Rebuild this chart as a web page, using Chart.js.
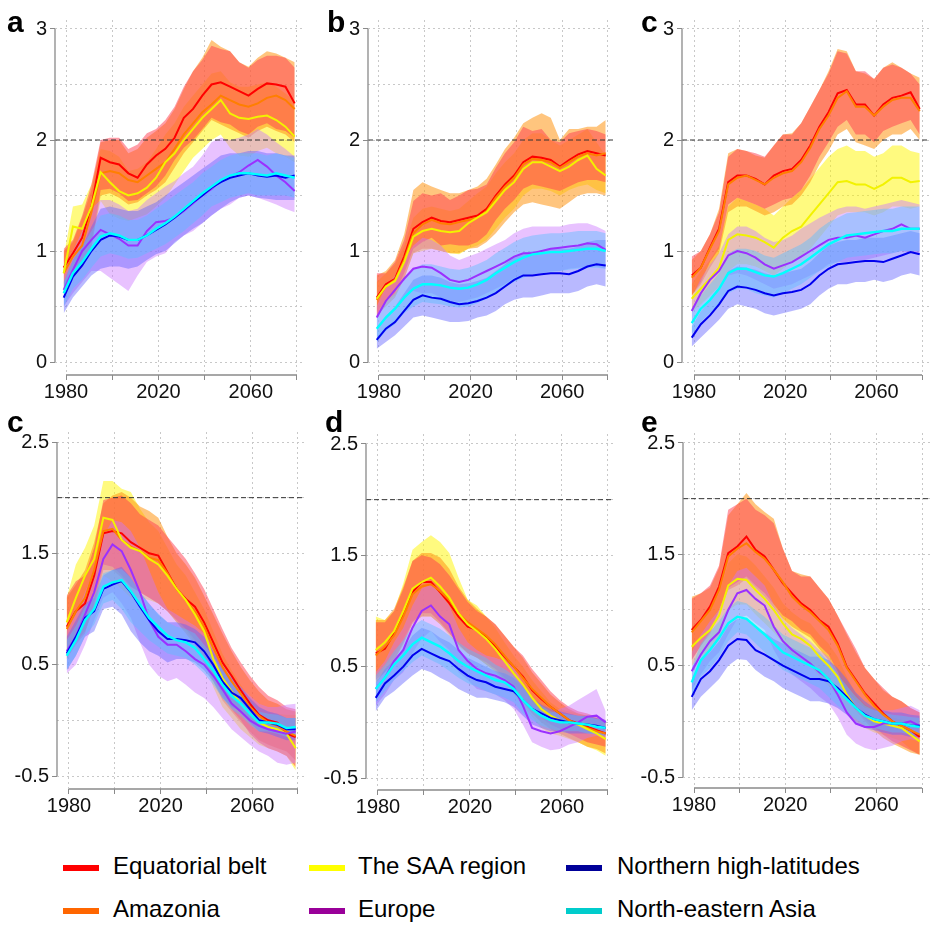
<!DOCTYPE html>
<html>
<head>
<meta charset="utf-8">
<script src="https://cdn.jsdelivr.net/npm/chart.js@4.4.0/dist/chart.umd.min.js"></script>
<style>
  html, body { margin: 0; padding: 0; background: #fff; }
  #wrap { position: relative; width: 930px; height: 926px; overflow: hidden; background: #fff;
          font-family: 'Liberation Sans', Arial, sans-serif; }
  canvas { position: absolute; }
  .plabel { position: absolute; font-weight: bold; font-size: 30px; line-height: 30px; color: #000; }
  .lg { position: absolute; font-size: 24px; line-height: 24px; color: #000; white-space: nowrap; }
  .sw { position: absolute; width: 36px; height: 6px; }
</style>
</head>
<body>
<div id="wrap"></div>
<script>
// ---------------- DATA ----------------
const years = [1979,1983,1987,1991,1995,1999,2003,2007,2011,2015,2019,2023,2027,2031,2035,2039,2043,2047,2051,2055,2059,2063,2067,2071,2075,2079];
const threshold = 2;
const xTicks = [1980,2000,2020,2040,2060,2080];
const xLabels = ['1980','','2020','','2060',''];
const topYTicks = [0,0.5,1,1.5,2,2.5,3];
const topYLabels = ['0','','1','','2','','3'];
const botYTicks = [-0.5,0,0.5,1,1.5,2,2.5];
const botYLabels = ['-0.5','','0.5','','1.5','','2.5'];
const seriesNames = ['Equatorial belt','Amazonia','The SAA region','Europe','Northern high-latitudes','North-eastern Asia'];

// Panel a
const a_eq    = [0.85,0.98,1.12,1.40,1.84,1.80,1.78,1.70,1.66,1.78,1.86,1.92,2.02,2.20,2.28,2.40,2.50,2.52,2.48,2.44,2.40,2.46,2.51,2.50,2.48,2.33];
const a_eq_lo = [0.65,0.80,0.88,1.05,1.55,1.56,1.52,1.45,1.46,1.52,1.58,1.68,1.82,1.93,2.00,2.10,2.20,2.16,2.14,2.08,2.05,2.12,2.15,2.10,2.08,2.02];
const a_eq_hi = [1.02,1.10,1.32,1.60,2.00,2.02,2.02,1.92,1.96,2.06,2.10,2.18,2.30,2.48,2.62,2.72,2.85,2.82,2.80,2.70,2.65,2.72,2.76,2.76,2.74,2.65];
const a_am    = [0.80,0.95,1.05,1.35,1.70,1.72,1.70,1.64,1.62,1.68,1.74,1.80,1.92,2.05,2.15,2.25,2.32,2.40,2.36,2.32,2.30,2.33,2.38,2.40,2.36,2.28];
const a_am_lo = [0.62,0.78,0.85,1.02,1.50,1.52,1.48,1.42,1.44,1.50,1.55,1.62,1.75,1.88,1.98,2.08,2.18,2.14,2.10,2.06,2.02,2.08,2.12,2.08,2.05,1.98];
const a_am_hi = [1.00,1.08,1.30,1.55,1.98,2.00,2.00,1.88,1.92,2.02,2.08,2.15,2.28,2.46,2.62,2.74,2.90,2.84,2.80,2.70,2.66,2.74,2.80,2.78,2.74,2.70];
const a_saa    = [0.80,1.22,1.20,1.40,1.71,1.62,1.54,1.50,1.52,1.57,1.66,1.80,1.88,2.00,2.10,2.20,2.28,2.36,2.24,2.20,2.19,2.21,2.22,2.18,2.12,2.03];
const a_saa_lo = [0.70,0.92,0.95,1.10,1.45,1.33,1.29,1.27,1.30,1.33,1.40,1.48,1.60,1.72,1.84,1.92,2.00,2.05,1.93,1.86,1.85,1.90,1.93,1.88,1.85,1.80];
const a_saa_hi = [0.95,1.40,1.42,1.60,1.92,1.90,1.85,1.72,1.74,1.80,1.92,2.05,2.15,2.30,2.40,2.50,2.60,2.62,2.52,2.48,2.48,2.50,2.52,2.48,2.42,2.35];
const a_eu    = [0.65,0.83,1.00,1.10,1.19,1.15,1.11,1.05,1.05,1.18,1.26,1.27,1.30,1.36,1.43,1.50,1.56,1.63,1.67,1.71,1.77,1.82,1.76,1.68,1.62,1.54];
const a_eu_lo = [0.50,0.62,0.72,0.82,0.82,0.76,0.70,0.64,0.78,0.90,0.95,0.98,1.08,1.14,1.18,1.25,1.32,1.38,1.42,1.48,1.50,1.48,1.45,1.42,1.38,1.35];
const a_eu_hi = [0.86,1.00,1.18,1.38,1.46,1.46,1.42,1.36,1.38,1.46,1.52,1.58,1.63,1.70,1.76,1.86,1.98,2.02,2.00,2.02,2.05,2.10,2.05,1.98,1.92,1.85];
const a_nh    = [0.58,0.77,0.87,1.00,1.10,1.14,1.13,1.10,1.10,1.14,1.19,1.24,1.30,1.37,1.44,1.50,1.57,1.62,1.66,1.68,1.70,1.68,1.67,1.68,1.66,1.68];
const a_nh_lo = [0.44,0.58,0.68,0.78,0.84,0.86,0.86,0.84,0.86,0.92,0.97,1.00,1.07,1.14,1.20,1.25,1.32,1.38,1.44,1.48,1.50,1.48,1.47,1.46,1.46,1.46];
const a_nh_hi = [0.72,0.92,1.04,1.22,1.38,1.40,1.38,1.36,1.36,1.40,1.44,1.50,1.56,1.62,1.68,1.74,1.80,1.86,1.88,1.88,1.90,1.90,1.88,1.88,1.86,1.86];
const a_ne    = [0.62,0.80,0.90,1.02,1.13,1.16,1.14,1.10,1.10,1.14,1.20,1.25,1.31,1.38,1.45,1.52,1.58,1.64,1.68,1.70,1.70,1.69,1.68,1.70,1.68,1.66];
const a_ne_lo = [0.50,0.66,0.74,0.85,0.95,0.98,0.96,0.93,0.94,0.98,1.02,1.06,1.12,1.18,1.25,1.32,1.40,1.44,1.48,1.50,1.52,1.50,1.50,1.50,1.50,1.48];
const a_ne_hi = [0.72,0.92,1.04,1.18,1.32,1.34,1.32,1.28,1.28,1.32,1.38,1.44,1.50,1.56,1.62,1.70,1.76,1.82,1.86,1.88,1.88,1.88,1.86,1.88,1.86,1.84];

// Panel b
const b_eq    = [0.58,0.70,0.75,0.95,1.20,1.26,1.30,1.27,1.26,1.28,1.30,1.32,1.38,1.50,1.60,1.68,1.80,1.85,1.84,1.82,1.76,1.82,1.87,1.90,1.88,1.86];
const b_eq_lo = [0.40,0.55,0.62,0.80,1.02,1.08,1.12,1.05,1.06,1.05,1.05,1.08,1.15,1.28,1.38,1.46,1.56,1.60,1.58,1.56,1.54,1.58,1.62,1.64,1.64,1.62];
const b_eq_hi = [0.80,0.80,0.90,1.10,1.45,1.52,1.50,1.52,1.46,1.50,1.55,1.56,1.60,1.75,1.88,1.98,2.12,2.08,2.10,2.00,1.98,2.06,2.08,2.10,2.08,2.05];
const b_am    = [0.56,0.68,0.74,0.92,1.16,1.24,1.28,1.25,1.24,1.26,1.28,1.30,1.36,1.48,1.58,1.66,1.78,1.83,1.82,1.80,1.75,1.80,1.85,1.88,1.86,1.88];
const b_am_lo = [0.42,0.50,0.58,0.75,0.98,1.02,1.02,1.00,0.98,0.98,1.02,1.03,1.08,1.16,1.26,1.35,1.42,1.44,1.42,1.40,1.38,1.44,1.50,1.52,1.52,1.50];
const b_am_hi = [0.78,0.82,0.92,1.15,1.55,1.62,1.58,1.55,1.52,1.52,1.55,1.58,1.65,1.78,1.92,2.02,2.15,2.20,2.24,2.20,2.00,2.10,2.10,2.12,2.12,2.18];
const b_saa    = [0.57,0.68,0.73,0.90,1.13,1.18,1.20,1.18,1.17,1.18,1.25,1.30,1.35,1.45,1.55,1.62,1.74,1.80,1.80,1.76,1.72,1.76,1.82,1.86,1.74,1.68];
const b_saa_lo = [0.45,0.55,0.60,0.75,0.98,1.00,1.02,1.00,0.98,0.97,1.02,1.05,1.10,1.20,1.30,1.38,1.50,1.56,1.56,1.54,1.50,1.55,1.58,1.60,1.55,1.52];
const b_saa_hi = [0.72,0.80,0.88,1.05,1.30,1.38,1.40,1.38,1.36,1.38,1.45,1.52,1.58,1.70,1.80,1.88,2.00,2.06,2.06,2.00,1.95,2.00,2.05,2.10,1.98,1.86];
const b_eu    = [0.40,0.55,0.65,0.75,0.84,0.86,0.85,0.80,0.74,0.72,0.74,0.78,0.82,0.86,0.90,0.95,0.98,0.98,1.00,1.02,1.03,1.04,1.05,1.07,1.06,1.01];
const b_eu_lo = [0.30,0.42,0.50,0.58,0.64,0.62,0.62,0.58,0.55,0.54,0.56,0.58,0.62,0.66,0.70,0.76,0.78,0.78,0.80,0.82,0.82,0.84,0.85,0.86,0.86,0.84];
const b_eu_hi = [0.50,0.68,0.78,0.92,1.05,1.12,1.10,1.05,0.96,0.92,0.95,0.98,1.02,1.06,1.10,1.16,1.20,1.22,1.22,1.22,1.22,1.24,1.25,1.25,1.22,1.18];
const b_nh    = [0.20,0.30,0.36,0.46,0.56,0.60,0.58,0.57,0.54,0.52,0.53,0.55,0.58,0.62,0.68,0.74,0.78,0.78,0.79,0.80,0.80,0.79,0.82,0.86,0.88,0.87];
const b_nh_lo = [0.12,0.18,0.24,0.32,0.40,0.42,0.40,0.38,0.36,0.36,0.37,0.40,0.42,0.46,0.52,0.56,0.58,0.58,0.60,0.62,0.62,0.62,0.64,0.68,0.70,0.68];
const b_nh_hi = [0.30,0.42,0.50,0.62,0.74,0.78,0.78,0.76,0.72,0.70,0.71,0.73,0.76,0.82,0.88,0.95,0.98,1.00,1.00,1.02,1.02,1.02,1.04,1.08,1.10,1.10];
const b_ne    = [0.30,0.40,0.48,0.58,0.66,0.70,0.70,0.69,0.67,0.66,0.67,0.70,0.74,0.80,0.85,0.90,0.94,0.97,0.98,0.99,0.99,1.00,1.01,1.02,1.02,1.00];
const b_ne_lo = [0.18,0.28,0.34,0.44,0.50,0.54,0.53,0.52,0.50,0.49,0.50,0.53,0.57,0.62,0.68,0.72,0.76,0.79,0.80,0.81,0.82,0.83,0.84,0.85,0.85,0.84];
const b_ne_hi = [0.42,0.54,0.62,0.74,0.84,0.88,0.88,0.86,0.84,0.83,0.85,0.88,0.92,0.98,1.03,1.08,1.12,1.14,1.15,1.16,1.16,1.17,1.18,1.18,1.18,1.16];

// Panel c (top)
const c_eq    = [0.78,0.85,1.03,1.20,1.62,1.68,1.68,1.65,1.60,1.68,1.72,1.74,1.82,1.95,2.12,2.25,2.42,2.45,2.32,2.32,2.22,2.32,2.38,2.40,2.43,2.28];
const c_eq_lo = [0.60,0.72,0.90,1.02,1.42,1.48,1.45,1.42,1.38,1.42,1.46,1.48,1.55,1.68,1.85,1.98,2.12,2.18,2.05,2.05,1.98,2.08,2.12,2.15,2.18,2.05];
const c_eq_hi = [0.95,1.00,1.15,1.35,1.85,1.92,1.90,1.88,1.85,1.95,2.05,2.05,2.15,2.30,2.45,2.60,2.80,2.78,2.62,2.62,2.55,2.65,2.68,2.65,2.60,2.50];
const c_am    = [0.76,0.85,1.02,1.18,1.60,1.66,1.68,1.64,1.60,1.66,1.70,1.72,1.80,1.93,2.10,2.22,2.38,2.44,2.30,2.30,2.22,2.30,2.36,2.38,2.38,2.26];
const c_am_lo = [0.60,0.70,0.85,0.98,1.35,1.40,1.40,1.36,1.32,1.35,1.40,1.42,1.50,1.62,1.78,1.90,2.05,2.10,1.98,1.95,1.92,2.00,2.05,2.05,2.10,2.00];
const c_am_hi = [0.92,1.00,1.15,1.38,1.88,1.92,1.90,1.86,1.84,1.95,2.05,2.06,2.15,2.30,2.45,2.62,2.82,2.80,2.62,2.60,2.55,2.65,2.70,2.65,2.60,2.56];
const c_saa    = [0.57,0.66,0.75,0.85,1.10,1.15,1.14,1.12,1.08,1.03,1.12,1.18,1.22,1.32,1.42,1.52,1.62,1.63,1.60,1.60,1.56,1.60,1.66,1.66,1.62,1.63];
const c_saa_lo = [0.45,0.52,0.60,0.68,0.82,0.88,0.88,0.86,0.82,0.78,0.84,0.90,0.95,1.02,1.12,1.22,1.32,1.35,1.35,1.35,1.32,1.35,1.40,1.40,1.38,1.40];
const c_saa_hi = [0.70,0.82,0.92,1.05,1.40,1.48,1.45,1.42,1.38,1.32,1.40,1.48,1.55,1.65,1.75,1.85,1.92,1.95,1.90,1.90,1.85,1.88,1.95,1.95,1.90,1.88];
const c_eu    = [0.46,0.62,0.74,0.82,0.96,1.00,0.98,0.94,0.88,0.84,0.87,0.90,0.95,1.00,1.05,1.10,1.12,1.12,1.14,1.12,1.15,1.18,1.20,1.24,1.20,1.20];
const c_eu_lo = [0.35,0.50,0.58,0.66,0.78,0.80,0.78,0.74,0.70,0.66,0.68,0.70,0.74,0.78,0.82,0.88,0.90,0.90,0.92,0.92,0.94,0.96,0.98,1.00,0.98,0.98];
const c_eu_hi = [0.58,0.75,0.88,0.98,1.15,1.22,1.22,1.18,1.12,1.08,1.10,1.14,1.20,1.25,1.30,1.34,1.38,1.40,1.40,1.38,1.40,1.42,1.44,1.46,1.44,1.42];
const c_nh    = [0.22,0.34,0.42,0.52,0.64,0.68,0.67,0.65,0.62,0.60,0.62,0.63,0.65,0.70,0.78,0.84,0.88,0.89,0.90,0.91,0.91,0.90,0.93,0.96,0.99,0.97];
const c_nh_lo = [0.14,0.22,0.30,0.38,0.48,0.52,0.50,0.48,0.44,0.42,0.44,0.46,0.48,0.52,0.60,0.66,0.70,0.70,0.72,0.72,0.74,0.72,0.74,0.78,0.80,0.78];
const c_nh_hi = [0.32,0.46,0.56,0.66,0.82,0.86,0.85,0.83,0.80,0.78,0.80,0.82,0.84,0.90,0.98,1.05,1.08,1.10,1.10,1.12,1.12,1.12,1.14,1.16,1.18,1.16];
const c_ne    = [0.35,0.48,0.56,0.66,0.80,0.84,0.84,0.81,0.78,0.77,0.80,0.84,0.88,0.94,1.00,1.06,1.10,1.14,1.15,1.16,1.17,1.18,1.18,1.20,1.20,1.20];
const c_ne_lo = [0.25,0.36,0.44,0.52,0.62,0.66,0.66,0.62,0.60,0.58,0.62,0.66,0.70,0.76,0.82,0.86,0.90,0.94,0.95,0.96,0.97,0.98,0.98,1.00,1.00,1.00];
const c_ne_hi = [0.45,0.60,0.70,0.80,0.98,1.02,1.02,1.00,0.96,0.94,0.98,1.02,1.06,1.12,1.20,1.26,1.30,1.34,1.35,1.36,1.37,1.38,1.38,1.40,1.40,1.40];

// Panel c (bottom)
const c2_eq    = [0.84,0.98,1.05,1.30,1.68,1.70,1.68,1.60,1.55,1.50,1.48,1.33,1.18,1.09,1.02,0.88,0.70,0.52,0.40,0.27,0.15,0.05,0.00,-0.02,-0.12,-0.15];
const c2_eq_lo = [0.55,0.68,0.78,1.05,1.40,1.38,1.30,1.20,1.15,1.10,1.05,0.98,0.90,0.82,0.72,0.58,0.40,0.22,0.10,0.00,-0.12,-0.20,-0.25,-0.28,-0.32,-0.42];
const c2_eq_hi = [1.12,1.25,1.30,1.55,1.98,2.00,2.02,1.95,1.85,1.80,1.75,1.65,1.55,1.45,1.32,1.18,1.00,0.82,0.65,0.52,0.40,0.30,0.22,0.18,0.12,0.10];
const c2_am    = [0.82,0.98,1.10,1.35,1.70,1.72,1.62,1.56,1.52,1.46,1.44,1.32,1.18,1.08,0.98,0.84,0.65,0.48,0.35,0.24,0.12,0.04,-0.02,-0.05,-0.10,-0.14];
const c2_am_lo = [0.55,0.70,0.80,1.02,1.35,1.35,1.28,1.20,1.15,1.10,1.05,0.98,0.88,0.78,0.68,0.52,0.35,0.18,0.08,-0.02,-0.10,-0.18,-0.22,-0.25,-0.28,-0.36];
const c2_am_hi = [1.10,1.22,1.35,1.60,1.95,2.02,2.05,2.00,1.92,1.88,1.82,1.65,1.50,1.40,1.28,1.12,0.95,0.78,0.62,0.48,0.36,0.26,0.18,0.15,0.10,0.08];
const c2_saa    = [0.88,1.10,1.30,1.45,1.82,1.80,1.62,1.55,1.52,1.45,1.40,1.30,1.18,1.08,0.95,0.80,0.55,0.38,0.26,0.15,0.06,-0.02,-0.06,-0.08,-0.12,-0.25];
const c2_saa_lo = [0.58,0.70,0.80,1.00,1.30,1.25,1.18,1.10,1.10,1.08,1.05,0.98,0.88,0.80,0.70,0.55,0.30,0.12,0.02,-0.08,-0.15,-0.22,-0.25,-0.28,-0.32,-0.45];
const c2_saa_hi = [1.10,1.40,1.55,1.75,2.15,2.15,2.08,2.05,1.90,1.78,1.70,1.55,1.40,1.30,1.15,1.00,0.80,0.60,0.45,0.32,0.20,0.12,0.08,0.06,0.05,0.05];
const c2_eu    = [0.62,0.75,0.95,1.15,1.45,1.58,1.52,1.35,1.15,0.90,0.75,0.68,0.68,0.62,0.55,0.50,0.40,0.28,0.15,0.08,0.00,-0.05,-0.08,-0.10,-0.12,-0.10];
const c2_eu_lo = [0.42,0.50,0.68,0.90,1.10,1.15,1.05,0.92,0.70,0.50,0.40,0.35,0.38,0.32,0.25,0.20,0.12,0.02,-0.08,-0.15,-0.22,-0.28,-0.32,-0.38,-0.40,-0.38];
const c2_eu_hi = [0.80,0.95,1.15,1.35,1.65,1.80,1.78,1.70,1.55,1.35,1.15,1.00,0.95,0.90,0.85,0.78,0.68,0.52,0.40,0.30,0.22,0.15,0.12,0.12,0.14,0.15];
const c2_nh    = [0.60,0.75,0.92,0.98,1.18,1.22,1.25,1.15,1.02,0.90,0.80,0.73,0.73,0.72,0.70,0.62,0.50,0.35,0.25,0.20,0.10,0.00,-0.02,-0.04,-0.08,-0.08];
const c2_nh_lo = [0.45,0.58,0.75,0.80,1.00,1.02,0.95,0.80,0.70,0.62,0.58,0.52,0.55,0.55,0.52,0.45,0.35,0.20,0.12,0.08,-0.02,-0.10,-0.12,-0.15,-0.18,-0.18];
const c2_nh_hi = [0.75,0.90,1.05,1.10,1.30,1.35,1.38,1.28,1.15,1.05,0.95,0.88,0.88,0.86,0.82,0.75,0.62,0.48,0.38,0.30,0.20,0.12,0.08,0.06,0.02,0.02];
const c2_ne    = [0.58,0.72,0.90,1.00,1.20,1.24,1.26,1.16,1.04,0.92,0.84,0.76,0.72,0.70,0.65,0.55,0.45,0.32,0.22,0.15,0.06,-0.02,-0.02,-0.03,-0.07,-0.06];
const c2_ne_lo = [0.45,0.58,0.76,0.86,1.05,1.08,1.00,0.88,0.80,0.72,0.66,0.60,0.58,0.56,0.50,0.42,0.32,0.20,0.10,0.04,-0.04,-0.10,-0.10,-0.12,-0.15,-0.14];
const c2_ne_hi = [0.72,0.85,1.02,1.12,1.32,1.35,1.36,1.28,1.15,1.04,0.96,0.88,0.84,0.82,0.78,0.68,0.58,0.45,0.34,0.26,0.16,0.08,0.06,0.05,0.02,0.02];

// Panel d
const d_eq    = [0.62,0.66,0.80,0.98,1.17,1.26,1.26,1.17,1.07,0.95,0.86,0.83,0.77,0.68,0.59,0.50,0.41,0.29,0.21,0.14,0.08,0.02,-0.01,-0.04,-0.07,-0.10];
const d_eq_lo = [0.38,0.45,0.55,0.72,0.90,0.98,0.98,0.90,0.80,0.70,0.62,0.58,0.54,0.48,0.40,0.32,0.22,0.12,0.04,-0.02,-0.06,-0.10,-0.14,-0.18,-0.20,-0.22];
const d_eq_hi = [0.90,0.90,1.00,1.20,1.45,1.50,1.48,1.42,1.32,1.20,1.08,1.00,0.95,0.88,0.78,0.68,0.60,0.48,0.38,0.28,0.20,0.14,0.10,0.08,0.05,0.02];
const d_am    = [0.60,0.68,0.78,0.95,1.15,1.22,1.24,1.18,1.10,0.98,0.90,0.84,0.78,0.70,0.60,0.50,0.40,0.30,0.22,0.14,0.08,0.02,-0.02,-0.05,-0.08,-0.10];
const d_am_lo = [0.35,0.45,0.55,0.70,0.88,0.95,0.95,0.88,0.80,0.70,0.62,0.58,0.52,0.46,0.38,0.28,0.18,0.08,0.00,-0.06,-0.10,-0.14,-0.18,-0.22,-0.24,-0.28];
const d_am_hi = [0.92,0.92,1.02,1.22,1.45,1.52,1.52,1.48,1.38,1.22,1.10,1.02,0.95,0.88,0.78,0.68,0.58,0.45,0.35,0.25,0.18,0.12,0.08,0.06,0.04,0.00];
const d_saa    = [0.65,0.72,0.82,1.00,1.20,1.26,1.30,1.22,1.12,0.98,0.88,0.82,0.75,0.66,0.55,0.44,0.34,0.22,0.12,0.06,0.02,0.00,-0.02,-0.06,-0.10,-0.15];
const d_saa_lo = [0.40,0.50,0.60,0.75,0.90,0.95,0.95,0.88,0.78,0.68,0.62,0.58,0.52,0.45,0.35,0.25,0.15,0.05,-0.05,-0.10,-0.12,-0.15,-0.18,-0.22,-0.25,-0.30];
const d_saa_hi = [0.95,0.92,1.00,1.25,1.55,1.62,1.68,1.62,1.52,1.30,1.10,1.05,0.95,0.85,0.72,0.60,0.50,0.38,0.28,0.18,0.12,0.10,0.08,0.06,0.04,0.00];
const d_eu    = [0.30,0.40,0.55,0.65,0.85,1.00,1.05,0.95,0.88,0.65,0.55,0.48,0.44,0.42,0.38,0.32,0.15,-0.05,-0.08,-0.10,-0.08,-0.04,0.00,0.05,0.06,0.00];
const d_eu_lo = [0.15,0.25,0.38,0.45,0.62,0.75,0.82,0.72,0.65,0.45,0.38,0.30,0.28,0.25,0.20,0.12,-0.02,-0.18,-0.22,-0.25,-0.24,-0.20,-0.18,-0.14,-0.12,-0.15];
const d_eu_hi = [0.45,0.55,0.72,0.85,1.05,1.20,1.25,1.15,1.05,0.85,0.72,0.65,0.60,0.58,0.55,0.50,0.35,0.18,0.10,0.08,0.12,0.15,0.20,0.25,0.30,0.10];
const d_nh    = [0.22,0.35,0.42,0.50,0.60,0.66,0.62,0.58,0.55,0.48,0.42,0.38,0.36,0.32,0.30,0.28,0.20,0.12,0.08,0.04,0.02,0.00,-0.01,-0.02,-0.03,-0.05];
const d_nh_lo = [0.10,0.22,0.28,0.35,0.42,0.48,0.45,0.40,0.36,0.30,0.26,0.22,0.22,0.20,0.18,0.14,0.06,-0.02,-0.05,-0.08,-0.08,-0.10,-0.10,-0.10,-0.10,-0.12];
const d_nh_hi = [0.35,0.48,0.56,0.66,0.78,0.85,0.82,0.76,0.72,0.65,0.58,0.54,0.50,0.46,0.44,0.40,0.32,0.22,0.16,0.12,0.10,0.08,0.06,0.06,0.04,0.02];
const d_ne    = [0.30,0.40,0.52,0.60,0.70,0.76,0.72,0.68,0.62,0.55,0.50,0.46,0.42,0.38,0.36,0.30,0.20,0.12,0.06,0.02,0.00,0.00,-0.01,-0.02,-0.04,-0.05];
const d_ne_lo = [0.18,0.28,0.38,0.46,0.54,0.60,0.56,0.52,0.46,0.40,0.35,0.32,0.28,0.25,0.22,0.18,0.08,0.02,-0.03,-0.06,-0.08,-0.08,-0.08,-0.10,-0.11,-0.12];
const d_ne_hi = [0.42,0.52,0.64,0.74,0.86,0.92,0.88,0.84,0.78,0.72,0.66,0.62,0.58,0.52,0.48,0.42,0.32,0.22,0.15,0.10,0.08,0.07,0.06,0.05,0.03,0.02];

// Panel e
const e_eq    = [0.82,0.91,1.03,1.21,1.51,1.57,1.66,1.54,1.48,1.36,1.24,1.15,1.06,1.00,0.91,0.85,0.70,0.49,0.37,0.25,0.16,0.07,0.00,-0.04,-0.08,-0.14];
const e_eq_lo = [0.55,0.68,0.80,1.00,1.20,1.25,1.30,1.22,1.15,1.05,0.95,0.90,0.82,0.78,0.68,0.60,0.45,0.25,0.12,0.02,-0.05,-0.12,-0.18,-0.22,-0.26,-0.30];
const e_eq_hi = [1.10,1.15,1.22,1.40,1.90,1.95,2.00,1.90,1.85,1.78,1.55,1.35,1.30,1.30,1.20,1.10,0.95,0.80,0.65,0.48,0.38,0.30,0.22,0.18,0.12,0.08];
const e_am    = [0.80,0.90,1.00,1.18,1.48,1.55,1.60,1.52,1.46,1.36,1.25,1.12,1.04,0.98,0.90,0.82,0.68,0.48,0.36,0.24,0.14,0.06,0.00,-0.04,-0.08,-0.12];
const e_am_lo = [0.55,0.68,0.78,0.98,1.18,1.22,1.28,1.20,1.12,1.02,0.92,0.85,0.80,0.75,0.65,0.55,0.42,0.22,0.10,0.00,-0.08,-0.15,-0.20,-0.24,-0.28,-0.30];
const e_am_hi = [1.12,1.15,1.20,1.38,1.85,1.95,2.05,1.95,1.88,1.82,1.55,1.35,1.32,1.30,1.20,1.10,0.95,0.78,0.62,0.48,0.38,0.28,0.22,0.18,0.12,0.08];
const e_saa    = [0.67,0.75,0.82,0.95,1.22,1.28,1.27,1.18,1.10,1.00,0.88,0.78,0.74,0.68,0.58,0.50,0.40,0.24,0.12,0.05,0.00,-0.02,-0.04,-0.06,-0.12,-0.18];
const e_saa_lo = [0.50,0.58,0.64,0.75,1.00,1.05,1.05,0.96,0.88,0.80,0.70,0.60,0.55,0.50,0.40,0.32,0.22,0.08,0.00,-0.06,-0.10,-0.12,-0.15,-0.18,-0.25,-0.30];
const e_saa_hi = [0.85,0.92,1.00,1.15,1.42,1.50,1.48,1.40,1.30,1.20,1.06,0.98,0.92,0.88,0.78,0.70,0.58,0.40,0.25,0.15,0.10,0.06,0.04,0.02,0.00,-0.05];
const e_eu    = [0.45,0.60,0.72,0.80,1.00,1.15,1.18,1.10,1.04,0.85,0.72,0.64,0.58,0.52,0.44,0.38,0.24,0.08,-0.02,-0.05,-0.05,-0.02,-0.02,-0.02,0.00,-0.04];
const e_eu_lo = [0.28,0.42,0.54,0.62,0.78,0.92,0.95,0.88,0.82,0.64,0.50,0.42,0.36,0.30,0.22,0.16,0.04,-0.12,-0.20,-0.24,-0.26,-0.24,-0.22,-0.18,-0.16,-0.18];
const e_eu_hi = [0.62,0.78,0.90,1.00,1.22,1.35,1.38,1.30,1.22,1.05,0.92,0.84,0.78,0.72,0.64,0.58,0.44,0.28,0.18,0.12,0.10,0.10,0.10,0.12,0.14,0.10];
const e_nh    = [0.22,0.38,0.45,0.55,0.68,0.74,0.73,0.64,0.60,0.55,0.50,0.46,0.42,0.38,0.38,0.36,0.30,0.22,0.12,0.06,0.02,0.00,-0.02,-0.02,-0.04,-0.04];
const e_nh_lo = [0.10,0.22,0.30,0.38,0.50,0.56,0.55,0.46,0.40,0.36,0.30,0.26,0.22,0.18,0.18,0.16,0.12,0.06,-0.02,-0.06,-0.08,-0.10,-0.12,-0.12,-0.14,-0.14];
const e_nh_hi = [0.38,0.55,0.62,0.72,0.86,0.92,0.92,0.84,0.80,0.74,0.70,0.66,0.62,0.58,0.58,0.55,0.48,0.38,0.26,0.18,0.12,0.10,0.08,0.08,0.06,0.05];
const e_ne    = [0.35,0.55,0.64,0.75,0.88,0.94,0.92,0.85,0.78,0.70,0.62,0.58,0.54,0.50,0.46,0.38,0.28,0.20,0.12,0.05,0.02,0.00,-0.02,-0.02,-0.04,-0.05];
const e_ne_lo = [0.22,0.40,0.48,0.58,0.72,0.80,0.78,0.70,0.62,0.54,0.46,0.42,0.38,0.34,0.30,0.22,0.14,0.08,0.02,-0.04,-0.06,-0.08,-0.10,-0.10,-0.12,-0.13];
const e_ne_hi = [0.48,0.70,0.80,0.90,1.02,1.08,1.06,1.00,0.94,0.86,0.78,0.74,0.70,0.66,0.62,0.54,0.42,0.32,0.22,0.14,0.10,0.08,0.06,0.05,0.04,0.03];

// ---------------- STYLE / LAYOUT ----------------
const lineColors = ['#ff0000','#ff7f00','#f2f200','#9b30ff','#0000ee','#00ffff'];
const bandColors = ['rgba(255,60,80,0.50)','rgba(255,150,20,0.55)','rgba(255,245,0,0.50)',
                    'rgba(205,120,255,0.45)','rgba(100,100,255,0.45)','rgba(90,190,255,0.45)'];
// drawing order of bands (higher = further back): yellow, orange, red, purple, blue, cyan
const bandOrder = [14, 15, 16, 13, 12, 11];
const legendColors = ['#ff0000','#ff6600','#ffff00','#990099','#000099','#00cccc'];

const panels = [
  {letter:'a', sets:[[a_eq,a_eq_lo,a_eq_hi],[a_am,a_am_lo,a_am_hi],[a_saa,a_saa_lo,a_saa_hi],[a_eu,a_eu_lo,a_eu_hi],[a_nh,a_nh_lo,a_nh_hi],[a_ne,a_ne_lo,a_ne_hi]],
   top:true, cx:0, cy:0, w:310, h:400, L:55, X0:66, X1:297, R:302, yHiPx:29, yLoPx:362, T:20, B:375, lx:7, ly:7},
  {letter:'b', sets:[[b_eq,b_eq_lo,b_eq_hi],[b_am,b_am_lo,b_am_hi],[b_saa,b_saa_lo,b_saa_hi],[b_eu,b_eu_lo,b_eu_hi],[b_nh,b_nh_lo,b_nh_hi],[b_ne,b_ne_lo,b_ne_hi]],
   top:true, cx:310, cy:0, w:310, h:400, L:58, X0:69, X1:298, R:303, yHiPx:29, yLoPx:362, T:20, B:375, lx:327, ly:7},
  {letter:'c', sets:[[c_eq,c_eq_lo,c_eq_hi],[c_am,c_am_lo,c_am_hi],[c_saa,c_saa_lo,c_saa_hi],[c_eu,c_eu_lo,c_eu_hi],[c_nh,c_nh_lo,c_nh_hi],[c_ne,c_ne_lo,c_ne_hi]],
   top:true, cx:620, cy:0, w:310, h:400, L:62, X0:74, X1:302, R:310, yHiPx:29, yLoPx:362, T:20, B:375, lx:641, ly:7},
  {letter:'c', sets:[[c2_eq,c2_eq_lo,c2_eq_hi],[c2_am,c2_am_lo,c2_am_hi],[c2_saa,c2_saa_lo,c2_saa_hi],[c2_eu,c2_eu_lo,c2_eu_hi],[c2_nh,c2_nh_lo,c2_nh_hi],[c2_ne,c2_ne_lo,c2_ne_hi]],
   top:false, cx:0, cy:400, w:310, h:420, L:57, X0:69, X1:298, R:305, yHiPx:42, yLoPx:376, T:32, B:389, lx:7, ly:407},
  {letter:'d', sets:[[d_eq,d_eq_lo,d_eq_hi],[d_am,d_am_lo,d_am_hi],[d_saa,d_saa_lo,d_saa_hi],[d_eu,d_eu_lo,d_eu_hi],[d_nh,d_nh_lo,d_nh_hi],[d_ne,d_ne_lo,d_ne_hi]],
   top:false, cx:310, cy:400, w:310, h:420, L:56, X0:68, X1:298, R:304, yHiPx:44, yLoPx:378, T:34, B:390, lx:325, ly:407},
  {letter:'e', sets:[[e_eq,e_eq_lo,e_eq_hi],[e_am,e_am_lo,e_am_hi],[e_saa,e_saa_lo,e_saa_hi],[e_eu,e_eu_lo,e_eu_hi],[e_nh,e_nh_lo,e_nh_hi],[e_ne,e_ne_lo,e_ne_hi]],
   top:false, cx:620, cy:400, w:310, h:420, L:63, X0:74, X1:302, R:310, yHiPx:43, yLoPx:377, T:33, B:388, lx:641, ly:407}
];

Chart.defaults.font.family = "'Liberation Sans', Arial, Helvetica, sans-serif";
Chart.defaults.color = '#111';

const toPts = arr => arr.map((v, i) => ({x: years[i], y: v}));

// R-style axis lines spanning first..last labelled tick
const rAxes = {
  id: 'rAxes',
  afterDraw(chart, args, opts) {
    const {ctx, chartArea, scales} = chart;
    const x = scales.x, y = scales.y;
    ctx.save();
    ctx.strokeStyle = '#8a8a8a';
    ctx.lineWidth = 1.3;
    ctx.beginPath();
    ctx.moveTo(chartArea.left, y.getPixelForValue(opts.yFrom));
    ctx.lineTo(chartArea.left, y.getPixelForValue(opts.yTo));
    ctx.moveTo(x.getPixelForValue(xTicks[0]), chartArea.bottom);
    ctx.lineTo(x.getPixelForValue(xTicks[xTicks.length - 1]), chartArea.bottom);
    ctx.stroke();
    ctx.restore();
  }
};

const wrap = document.getElementById('wrap');

panels.forEach(p => {
  const yT = p.top ? topYTicks : botYTicks;
  const yL = p.top ? topYLabels : botYLabels;
  const yHiVal = yT[yT.length - 1], yLoVal = yT[0];
  const ppu = (p.yLoPx - p.yHiPx) / (yHiVal - yLoVal);
  const ymax = yHiVal + (p.yHiPx - p.T) / ppu;
  const ymin = yLoVal - (p.B - p.yLoPx) / ppu;
  const ppy = (p.X1 - p.X0) / (xTicks[xTicks.length - 1] - xTicks[0]);
  const xmin = xTicks[0] - (p.X0 - p.L) / ppy;
  const xmax = xTicks[xTicks.length - 1] + (p.R - p.X1) / ppy;

  const cv = document.createElement('canvas');
  cv.width = p.w; cv.height = p.h;
  cv.style.left = p.cx + 'px'; cv.style.top = p.cy + 'px';
  wrap.appendChild(cv);

  const lab = document.createElement('div');
  lab.className = 'plabel';
  lab.textContent = p.letter;
  lab.style.left = p.lx + 'px'; lab.style.top = p.ly + 'px';
  wrap.appendChild(lab);

  const datasets = [];
  // mean lines (drawn on top)
  p.sets.forEach((s, i) => {
    datasets.push({
      label: seriesNames[i], data: toPts(s[0]), borderColor: lineColors[i],
      borderWidth: i === 5 ? 2.4 : 2, pointRadius: 0, fill: false, tension: 0, order: 6 - i
    });
  });
  // threshold line
  datasets.push({
    label: 'threshold', data: [{x: xmin, y: threshold}, {x: xmax, y: threshold}],
    borderColor: '#333', borderWidth: 1, borderDash: [5, 3], pointRadius: 0, fill: false, order: 7
  });
  // uncertainty bands
  p.sets.forEach((s, i) => {
    datasets.push({
      label: seriesNames[i] + ' hi', data: toPts(s[2]), borderColor: 'rgba(0,0,0,0)', borderWidth: 1,
      backgroundColor: bandColors[i], pointRadius: 0, fill: '+1', tension: 0, order: bandOrder[i]
    });
    datasets.push({
      label: seriesNames[i] + ' lo', data: toPts(s[1]), borderColor: 'rgba(0,0,0,0)', borderWidth: 1,
      pointRadius: 0, fill: false, tension: 0, order: bandOrder[i]
    });
  });

  new Chart(cv, {
    type: 'line',
    data: {datasets},
    plugins: [rAxes],
    options: {
      responsive: false, animation: false, devicePixelRatio: 1, events: [],
      layout: {padding: {left: 0, right: p.w - p.R, top: p.T, bottom: 0}},
      plugins: {legend: {display: false}, tooltip: {enabled: false},
                rAxes: {yFrom: yLoVal, yTo: yHiVal}},
      scales: {
        x: {
          type: 'linear', min: xmin, max: xmax,
          afterFit: sc => { sc.height = p.h - p.B; },
          afterBuildTicks: sc => { sc.ticks = xTicks.map(v => ({value: v})); },
          ticks: {autoSkip: false, maxRotation: 0, padding: 0, color: '#111',
                  font: {size: 20}, callback: (v) => { const k = xTicks.indexOf(v); return k >= 0 ? xLabels[k] : ''; }},
          grid: {color: '#c8c8c8', lineWidth: 1, tickLength: 5, tickColor: '#8a8a8a', tickBorderDash: []},
          border: {display: false, dash: [2, 3]}
        },
        y: {
          type: 'linear', min: ymin, max: ymax,
          afterFit: sc => { sc.width = p.L; },
          afterBuildTicks: sc => { sc.ticks = yT.map(v => ({value: v})); },
          ticks: {autoSkip: false, padding: 3, color: '#111', font: {size: 20},
                  callback: (v) => { const k = yT.indexOf(v); return k >= 0 ? yL[k] : ''; }},
          grid: {color: '#c8c8c8', lineWidth: 1, tickLength: 5, tickBorderDash: [],
                 tickColor: c => { const k = c.tick ? yT.indexOf(c.tick.value) : -1; return (k >= 0 && yL[k] !== '') ? '#8a8a8a' : 'rgba(0,0,0,0)'; }},
          border: {display: false, dash: [2, 3]}
        }
      }
    }
  });
});

// Legend (HTML)
const legendPos = [
  {x: 63, y: 865, tx: 113, ty: 854}, {x: 63, y: 908, tx: 113, ty: 897},
  {x: 309, y: 865, tx: 358, ty: 854}, {x: 309, y: 908, tx: 358, ty: 897},
  {x: 566, y: 865, tx: 617, ty: 854}, {x: 566, y: 908, tx: 617, ty: 897}
];
const legendOrder = [0, 1, 2, 3, 4, 5];
legendOrder.forEach((si, k) => {
  const pos = legendPos[k];
  const sw = document.createElement('div');
  sw.className = 'sw'; sw.style.left = pos.x + 'px'; sw.style.top = pos.y + 'px';
  sw.style.background = legendColors[si];
  wrap.appendChild(sw);
  const t = document.createElement('div');
  t.className = 'lg'; t.style.left = pos.tx + 'px'; t.style.top = pos.ty + 'px';
  t.textContent = seriesNames[si];
  wrap.appendChild(t);
});
</script>
</body>
</html>
